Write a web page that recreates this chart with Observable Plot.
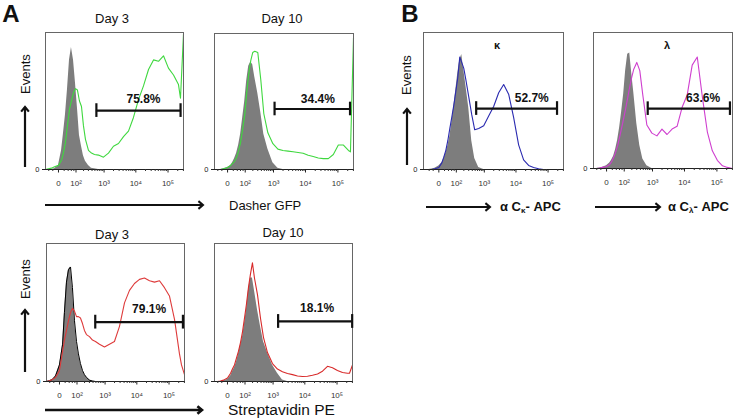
<!DOCTYPE html>
<html><head><meta charset="utf-8">
<script src="https://cdn.jsdelivr.net/npm/d3@7"></script>
<script src="https://cdn.jsdelivr.net/npm/@observablehq/plot@0.6"></script>
<style>
body{margin:0;background:#fff;}
#fig{position:relative;width:733px;height:420px;overflow:hidden;font-family:Arial,"Liberation Sans",sans-serif;color:#111;}
.t{position:absolute;white-space:nowrap;line-height:1;transform:translate(-50%,-50%);}
.l{position:absolute;white-space:nowrap;line-height:1;transform:translate(0,-50%);}
.v{position:absolute;white-space:nowrap;line-height:1;transform:translate(-50%,-50%) rotate(-90deg);}
.p{position:absolute;}
</style></head><body><div id="fig"></div>
<script>
// ---- data -------------------------------------------------------------
// shared fluorescence channel grid (biexponential axis)
const fluor = [-61,-42,-26,-13,0,10,17,26,36,48,61,77,95,115,139,167,198,235,301,382,483,656,955,1380,1990,2870,4120,5900,8440,12100,17300,24800,35400,50600,72300,103000,148000,211000,243500,302000];

// % of max events; control = grey filled, stain = coloured line
const gfpDay3Ctrl  = [0,0,0,0.5,3,14,26,40,58,80,89,80,63,45,25,17,10,6,3,1,0.5,0,0,0,0,0,0,0,0,0,0,0,0,0,0,0,0,0,0,0];
const gfpDay3      = [0,0.5,1,2,3,7,12,20,32,44,50,56,59,58,50,46,32,22,14,12,11,10.5,9,12,17,19,24,28,38,51,61,73,80,79,83,74,69,62,52,99];
const gfpDay10Ctrl = [0,0,0,0.5,1.5,3,5,8,12,18,26,38,50,65,76,79,77,68,56,42,26,15,5,1,0,0,0,0,0,0,0,0,0,0,0,0,0,0,0,0];
const gfpDay10     = [0,0,0,0.5,1.5,3,4.5,6,9,14,20,30,40,56,70,80,86,87,86,66,41,27,19,15,14,13.5,13,12.5,12,10.5,9.5,8.5,8,8,11,18,18,14,13,97];
const peDay3Ctrl   = [0,0.5,1.5,4,12,27,50,72,81,83,68,44,29,20,13,8,5,3,1,0.3,0,0,0,0,0,0,0,0,0,0,0,0,0,0,0,0,0,0,0,0];
const peDay3       = [0,0.5,1.5,3,8,22,30,37,44,50,53,51,47,47,46,42,37,34,32.5,30,29,27,25,27,29,40,57,66,71,74,75,73,72,73,68,62,45,20,12,5];
const peDay10Ctrl  = [0,0,0,0.5,1.5,4,7,10,14,20,26,32,42,52,66,75,75,66,52,40,29,21,12,6,1,0,0,0,0,0,0,0,0,0,0,0,0,0,0,0];
const peDay10      = [0,0,0.3,1,2.5,6,9,12,17,22,28,36,46,56,68,78,86,75,63,46,32,21,13,9,7,5.8,5,4,3.6,3.8,4.5,5.5,7.5,11,10,8,6.5,6,6,12];
const kappaCtrl    = [0,0,0.3,1,2.5,5,8,12,17,24,34,46,58,70,80,84,73,62,45,21,8,1.5,0,0,0,0,0,0,0,0,0,0,0,0,0,0,0,0,0,0];
const kappa        = [0,0,0,0.5,1.5,5,9,14,21,30,38,47,57,67,82,78,74,66,53,40,29,30,32,39,46,56,62,55,38,18,7,3,1.5,0.5,0,0,0,0,0,0];
const lambdaCtrl   = [0,0,0.3,1,2,4,6,9,14,21,30,42,55,72,84,85,70,56,33,17,7,2,0,0,0,0,0,0,0,0,0,0,0,0,0,0,0,0,0,0];
const lambda       = [0,0,0.3,0.8,1.5,3,5,8,12,17,23,30,37,44,52,60,67,73,78,72,54,32,26,24,29,25,29,31,45,54,76,82,53,27,13,6,2,0.8,0.5,0];

// gates
const gatePct = ["75.8%","34.4%","79.1%","18.1%","52.7%","63.6%"];
const gateLo  = [560, 1080, 475, 1450, 540, 700];
const gateHi  = [245000, 236000, 270000, 295000, 190000, 252000];

// axis ticks
const tickValues = [0, 100, 1000, 10000, 100000];
const tickLabels = ["0", "10\u00B2", "10\u00B3", "10\u2074", "10\u2075"];
const minorTicks = [-40,-20,20,40,60,80,200,300,400,500,600,700,800,900,2000,3000,4000,5000,6000,7000,8000,9000,20000,30000,40000,50000,60000,70000,80000,90000,200000,300000];
const yTicks = [0];
const yTickLabels = ["0"];

// ---- layout ------------------------------------------------------------
const panels = [
  {ctrl: gfpDay3Ctrl,  stain: gfpDay3,  color: "#3fd83f", left: 45,  top: 32,  w: 138, h: 137, lo: -61, level: 43,   lx: 17300, ly: 51},
  {ctrl: gfpDay10Ctrl, stain: gfpDay10, color: "#3fd83f", left: 214, top: 33,  w: 139, h: 136, lo: -61, level: 44.5, lx: 24000, ly: 52},
  {ctrl: peDay3Ctrl,   stain: peDay3,   color: "#de3b3b", left: 46,  top: 243, w: 138, h: 138, lo: -61, level: 43,   lx: 24000, ly: 52.5, outline: true},
  {ctrl: peDay10Ctrl,  stain: peDay10,  color: "#d82a2a", left: 214, top: 243, w: 138, h: 138, lo: -61, level: 43.5, lx: 24000, ly: 53},
  {ctrl: kappaCtrl,    stain: kappa,    color: "#2a2ab0", left: 423, top: 32,  w: 140, h: 137, lo: -80, level: 44.5, lx: 31000, ly: 52},
  {ctrl: lambdaCtrl,   stain: lambda,   color: "#cf3fcf", left: 593, top: 32,  w: 139, h: 136, lo: -61, level: 44,   lx: 37500, ly: 52}
];

const fig = document.getElementById("fig");
const font = 'Arial, "Liberation Sans", sans-serif';

panels.forEach((cfg, k) => {
  const rows = fluor.map((v, i) => ({x: v, ctrl: cfg.ctrl[i], stain: cfg.stain[i]}));
  const gate = {lo: gateLo[k], hi: gateHi[k], level: cfg.level, pct: gatePct[k], lx: cfg.lx, ly: cfg.ly};
  const caps = [{x: gate.lo, y1: cfg.level - 5, y2: cfg.level + 5}, {x: gate.hi, y1: cfg.level - 5, y2: cfg.level + 5}];
  const ml = 16, mr = 2, mt = 2, mb = 24;
  const chart = Plot.plot({
    width: cfg.w + ml + mr, height: cfg.h + mt + mb,
    marginLeft: ml, marginRight: mr, marginTop: mt, marginBottom: mb,
    style: {fontFamily: font, fontSize: "8px", color: "#222", background: "none", overflow: "visible"},
    x: {type: "symlog", constant: 40, domain: [cfg.lo, 302000], label: null},
    y: {domain: [0, 100], label: null},
    marks: [
      Plot.areaY(rows, {x: "x", y: "ctrl", fill: "#7d7d7d"}),
      cfg.outline ? Plot.lineY(rows, {x: "x", y: "ctrl", stroke: "#000", strokeWidth: 1}) : null,
      Plot.lineY(rows, {x: "x", y: "stain", stroke: cfg.color, strokeWidth: 1.1}),
      Plot.frame({stroke: "#666", strokeWidth: 1}),
      Plot.ruleY([0], {stroke: "#222", strokeWidth: 1.2}),
      Plot.axisX({ticks: minorTicks, tickSize: 2, tickFormat: () => "", stroke: "#333", label: null}),
      Plot.axisX({ticks: tickValues, tickSize: 3.5, tickPadding: 7, tickFormat: d => tickLabels[tickValues.indexOf(d)], fill: "#333", fontSize: 8, label: null}),
      Plot.axisY({ticks: yTicks, tickSize: 3, tickPadding: 3, tickFormat: d => yTickLabels[yTicks.indexOf(d)], fill: "#222", fontSize: 7.5, label: null}),
      Plot.ruleY([gate], {x1: "lo", x2: "hi", y: "level", stroke: "#111", strokeWidth: 2.2}),
      Plot.ruleX(caps, {x: "x", y1: "y1", y2: "y2", stroke: "#111", strokeWidth: 2.2}),
      Plot.text([gate], {x: "lx", y: "ly", text: "pct", fontSize: 12, fontWeight: "bold", fill: "#111"})
    ]
  });
  chart.classList.add("p");
  chart.style.left = (cfg.left - ml) + "px";
  chart.style.top = (cfg.top - mt) + "px";
  fig.appendChild(chart);
});

// ---- text labels -------------------------------------------------------
function txt(cls, x, y, html, css) {
  const d = document.createElement("div");
  d.className = cls;
  d.style.left = x + "px";
  d.style.top = y + "px";
  d.innerHTML = html;
  Object.assign(d.style, css || {});
  fig.appendChild(d);
}
txt("t", 11, 14, "A", {fontSize: "24px", fontWeight: "bold"});
txt("t", 410, 14, "B", {fontSize: "24px", fontWeight: "bold"});
txt("t", 112, 18, "Day 3", {fontSize: "13px"});
txt("t", 282, 18, "Day 10", {fontSize: "13px"});
txt("t", 112, 234, "Day 3", {fontSize: "13px"});
txt("t", 283, 232, "Day 10", {fontSize: "13px"});
txt("v", 25, 74, "Events", {fontSize: "13px"});
txt("v", 25, 279, "Events", {fontSize: "13px"});
txt("v", 406, 75, "Events", {fontSize: "13px"});
txt("l", 229, 205, "Dasher GFP", {fontSize: "13px"});
txt("l", 228, 410, "Streptavidin PE", {fontSize: "15.5px"});
txt("l", 500, 207, "\u03B1 C<sub style='font-size:8px;vertical-align:-2px'>\u03BA</sub>- APC", {fontSize: "13px", fontWeight: "bold"});
txt("l", 668, 207, "\u03B1 C<sub style='font-size:8px;vertical-align:-2px'>\u03BB</sub>- APC", {fontSize: "13px", fontWeight: "bold"});
txt("t", 497, 45, "\u03BA", {fontSize: "11px", fontWeight: "bold"});
txt("t", 667, 45, "\u03BB", {fontSize: "11px", fontWeight: "bold"});

// ---- arrows ------------------------------------------------------------
const ns = "http://www.w3.org/2000/svg";
const ov = document.createElementNS(ns, "svg");
ov.setAttribute("width", 733); ov.setAttribute("height", 420);
ov.style.position = "absolute"; ov.style.left = "0"; ov.style.top = "0";
ov.style.pointerEvents = "none";
fig.appendChild(ov);
function arrow(x1, y1, x2, y2, w) {
  const g = document.createElementNS(ns, "g");
  g.setAttribute("stroke", "#111"); g.setAttribute("stroke-width", w); g.setAttribute("fill", "none");
  const l = document.createElementNS(ns, "line");
  l.setAttribute("x1", x1); l.setAttribute("y1", y1); l.setAttribute("x2", x2); l.setAttribute("y2", y2);
  g.appendChild(l);
  const a = Math.atan2(y2 - y1, x2 - x1), s = 6;
  const p = document.createElementNS(ns, "polyline");
  const pts = [[x2 - s * Math.cos(a - 0.7), y2 - s * Math.sin(a - 0.7)], [x2, y2], [x2 - s * Math.cos(a + 0.7), y2 - s * Math.sin(a + 0.7)]];
  p.setAttribute("points", pts.map(q => q.join(",")).join(" "));
  g.appendChild(p);
  ov.appendChild(g);
}
arrow(45, 205, 203, 205, 2);
arrow(45, 410, 202, 410, 2.6);
arrow(25, 167, 25, 107, 2.2);
arrow(25, 372, 25, 310, 2.2);
arrow(407, 165, 407, 109, 2.2);
arrow(426, 207, 490, 207, 2);
arrow(595, 207, 660, 207, 2);
</script></body></html>
